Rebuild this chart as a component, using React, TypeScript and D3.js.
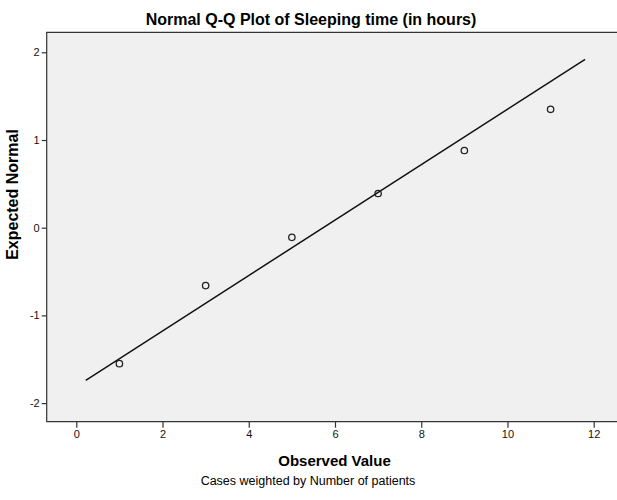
import React, { useEffect, useRef } from 'react';
import * as d3 from 'd3';

// Observed values (hours) and their expected normal scores
const observed = [1, 3, 5, 7, 9, 11];
const expected = [-1.55, -0.66, -0.11, 0.39, 0.88, 1.35];

// Reference line end points
const lineX = [0.22, 11.8];
const lineY = [-1.74, 1.92];

const xTicks = [0, 2, 4, 6, 8, 10, 12];
const yTicks = [-2, -1, 0, 1, 2];

const App = () => {
  const svgRef = useRef<SVGSVGElement>(null);

  useEffect(() => {
    const svg = d3.select(svgRef.current);
    svg.selectAll('*').remove();

    const width = 617;
    const height = 500;
    const font = '"Liberation Sans", Arial, sans-serif';
    const plot = { left: 46.7, right: 617, top: 32.3, bottom: 421.7 };

    const x = d3.scaleLinear().domain([-0.686, 12.54]).range([plot.left, plot.right]);
    const y = d3.scaleLinear().domain([-2.212, 2.228]).range([plot.bottom, plot.top]);

    svg.attr('width', width).attr('height', height);

    // plot background
    svg.append('rect')
      .attr('x', plot.left)
      .attr('y', plot.top)
      .attr('width', plot.right - plot.left)
      .attr('height', plot.bottom - plot.top)
      .attr('fill', '#f0f0f0');

    // frame: top, left, bottom (right side runs off the picture)
    svg.append('path')
      .attr('d', `M${plot.right},${plot.top}H${plot.left}V${plot.bottom}H${plot.right}`)
      .attr('fill', 'none')
      .attr('stroke', '#333')
      .attr('stroke-width', 1.2);

    // axes, plain hyphen minus like the original
    const fmt = (d: d3.NumberValue) => String(d);

    const xAxis = svg.append('g')
      .attr('transform', `translate(0,${plot.bottom})`)
      .call(d3.axisBottom(x).tickValues(xTicks).tickSize(6).tickPadding(3).tickFormat(fmt));
    xAxis.select('.domain').remove();

    const yAxis = svg.append('g')
      .attr('transform', `translate(${plot.left},0)`)
      .call(d3.axisLeft(y).tickValues(yTicks).tickSize(5).tickPadding(2).tickFormat(fmt));
    yAxis.select('.domain').remove();

    svg.selectAll('.tick line').attr('stroke', '#333').attr('stroke-width', 1.2);
    svg.selectAll('.tick text')
      .attr('fill', '#111')
      .style('font-family', font)
      .style('font-size', '11px');

    // reference line
    const line = d3.line<number>()
      .x((d) => x(d))
      .y((_, i) => y(lineY[i]));
    svg.append('path')
      .datum(lineX)
      .attr('d', line)
      .attr('fill', 'none')
      .attr('stroke', '#111')
      .attr('stroke-width', 1.5);

    // points
    svg.append('g')
      .selectAll('circle')
      .data(observed)
      .join('circle')
      .attr('cx', (d) => x(d))
      .attr('cy', (_, i) => y(expected[i]))
      .attr('r', 3.2)
      .attr('fill', 'none')
      .attr('stroke', '#222')
      .attr('stroke-width', 1.3);

    // title
    svg.append('text')
      .attr('x', 311)
      .attr('y', 25)
      .attr('text-anchor', 'middle')
      .style('font-family', font)
      .style('font-size', '16px')
      .style('font-weight', 'bold')
      .text('Normal Q-Q Plot of Sleeping time (in hours)');

    // axis labels
    svg.append('text')
      .attr('x', 334.5)
      .attr('y', 466)
      .attr('text-anchor', 'middle')
      .style('font-family', font)
      .style('font-size', '15px')
      .style('font-weight', 'bold')
      .text('Observed Value');

    svg.append('text')
      .attr('transform', 'rotate(-90)')
      .attr('x', -194.5)
      .attr('y', 18)
      .attr('text-anchor', 'middle')
      .style('font-family', font)
      .style('font-size', '16px')
      .style('font-weight', 'bold')
      .text('Expected Normal');

    svg.append('text')
      .attr('x', 308)
      .attr('y', 485)
      .attr('text-anchor', 'middle')
      .style('font-family', font)
      .style('font-size', '12.5px')
      .text('Cases weighted by Number of patients');
  }, []);

  return <svg ref={svgRef} style={{ position: 'absolute', left: 0, top: 0, background: '#fff' }} />;
};

export default App;
